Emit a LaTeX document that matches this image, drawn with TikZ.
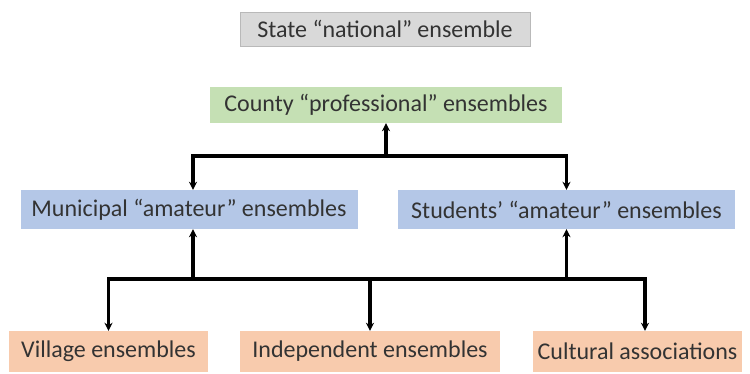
\documentclass[tikz,border=0pt]{standalone}
\usepackage{fontspec}
\setmainfont{Carlito}
\usetikzlibrary{arrows.meta}

\definecolor{boxgray}{HTML}{D9D9D9}
\definecolor{boxgreen}{HTML}{C5E0B4}
\definecolor{boxblue}{HTML}{B4C7E7}
\definecolor{boxorange}{HTML}{F8CBAD}
\definecolor{txtgray}{HTML}{333333}

\begin{document}
\begin{tikzpicture}[x=1pt,y=-1pt,
        lvl/.style={minimum height=39pt,inner sep=0pt,text=txtgray,font=\fontsize{24}{26}\selectfont},%box of one level
        con/.style={line width=3.2pt,line join=miter},
        arr/.style={con,-{Stealth[length=8pt,width=8pt]}}%arrows end in small tips
        ]
\useasboundingbox (0,0) rectangle (750,374);
\node[lvl,fill=boxgray,draw=gray!55,line width=0.6pt,minimum width=290pt,minimum height=34pt] (state) at (385,29) {State “national” ensemble};
\node[lvl,fill=boxgreen,minimum width=352pt,minimum height=36pt] (county) at (386,105) {County “professional” ensembles};
\node[lvl,fill=boxblue,minimum width=337pt] (mun) at (189,209.5) {Municipal “amateur” ensembles};
\node[lvl,fill=boxblue,minimum width=337pt] (stud) at (566.5,209.5) {Students’ “amateur” ensembles};
\node[lvl,fill=boxorange,minimum width=199pt,minimum height=41pt] (vil) at (108.5,351.5) {Village ensembles};
\node[lvl,fill=boxorange,minimum width=260pt,minimum height=41pt] (ind) at (370,351.5) {Independent ensembles};
\node[lvl,fill=boxorange,minimum width=209pt,minimum height=41pt] (cul) at (637.5,351.5) {Cultural associations};

\coordinate (ub) at (386,156);%upper bar
\coordinate (lb) at (370,279);%lower bar
\draw[arr] (ub) -- (county.south);
\draw[arr] (ub) -| ([xshift=4pt]mun.north);
\draw[arr] (ub) -| (stud.north);
\draw[arr] ([xshift=4pt]mun.south |- lb) -- ([xshift=4pt]mun.south);
\draw[arr] (stud.south |- lb) -- (stud.south);
\draw[arr] (lb) -| (vil.north);
\draw[arr] (lb) -- (ind.north);
\draw[arr] (lb) -| ([xshift=7.5pt]cul.north);
\end{tikzpicture}
\end{document}
